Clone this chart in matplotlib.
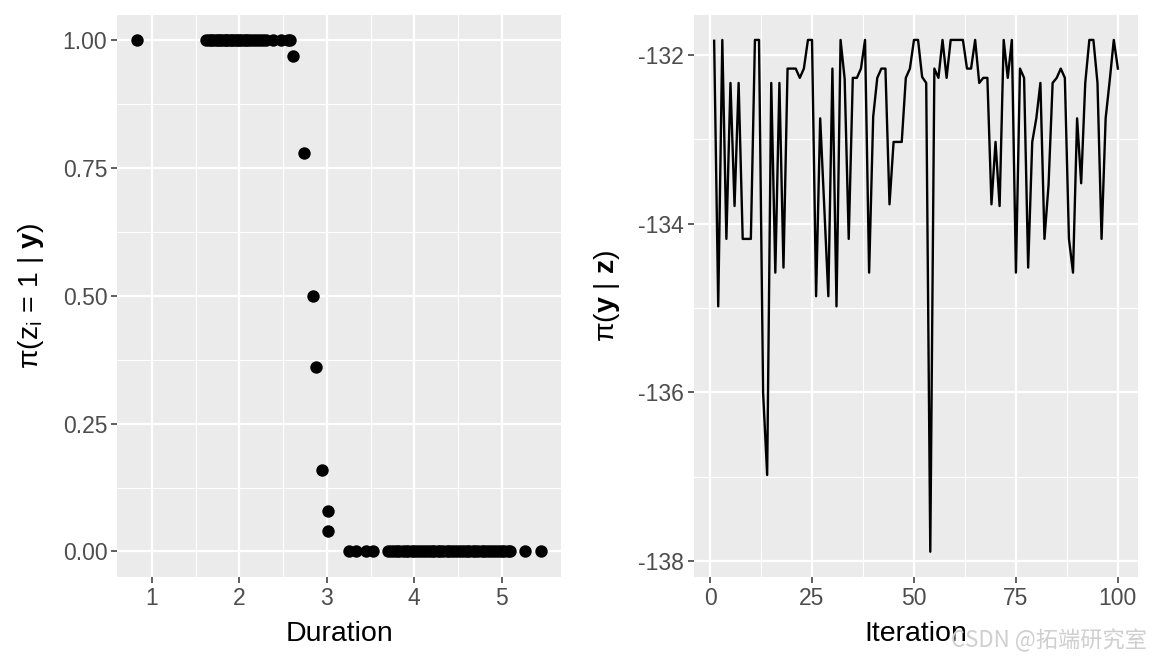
import numpy as np
import matplotlib.pyplot as plt
from matplotlib.ticker import FixedLocator

plt.rcParams['font.family'] = ['Liberation Sans', 'DejaVu Sans']
plt.rcParams['mathtext.fontset'] = 'custom'
plt.rcParams['mathtext.rm'] = 'Liberation Sans'
plt.rcParams['mathtext.it'] = 'Liberation Sans:italic'
plt.rcParams['mathtext.bf'] = 'Liberation Sans:weight=bold'
plt.rcParams['axes.unicode_minus'] = False

# panel 1: posterior membership probability vs duration
dur_one = [0.83, 1.62, 1.65, 1.67, 1.70, 1.73, 1.75, 1.78, 1.80, 1.83, 1.85,
           1.87, 1.90, 1.92, 1.95, 1.97, 2.00, 2.02, 2.05, 2.08, 2.10, 2.13,
           2.17, 2.20, 2.23, 2.27, 2.30, 2.38, 2.48, 2.55, 2.58]
dur_mid = [2.61, 2.74, 2.84, 2.88, 2.94, 3.01, 3.01]
prob_mid = [0.97, 0.78, 0.50, 0.36, 0.16, 0.08, 0.04]
dur_zero = [3.25, 3.33, 3.45, 3.53, 3.70, 3.73, 3.77, 3.80, 3.83, 3.87, 3.90,
            3.93, 3.97, 4.00, 4.03, 4.07, 4.10, 4.13, 4.17, 4.20, 4.23, 4.27,
            4.30, 4.33, 4.37, 4.40, 4.43, 4.47, 4.50, 4.53, 4.57, 4.60, 4.63,
            4.67, 4.70, 4.73, 4.77, 4.80, 4.83, 4.87, 4.90, 4.93, 4.97, 5.00,
            5.03, 5.07, 5.10, 5.27, 5.45]

duration = dur_one + dur_mid + dur_zero
prob = [1.0] * len(dur_one) + prob_mid + [0.0] * len(dur_zero)

# panel 2: log likelihood trace
loglik = [-131.83, -134.98, -131.82, -134.18, -132.33, -133.79, -132.33, -134.18, -134.18, -134.18,
          -131.82, -131.82, -136.00, -136.98, -132.33, -134.58, -132.33, -134.52, -132.16, -132.16,
          -132.16, -132.27, -132.16, -131.82, -131.82, -134.86, -132.75, -133.80, -134.86, -132.16,
          -134.98, -131.82, -132.28, -134.18, -132.27, -132.27, -132.16, -131.82, -134.58, -132.73,
          -132.27, -132.16, -132.16, -133.77, -133.03, -133.03, -133.03, -132.27, -132.16, -131.82,
          -131.82, -132.26, -132.33, -137.89, -132.16, -132.27, -131.82, -132.27, -131.82, -131.82,
          -131.82, -131.82, -132.16, -132.16, -131.82, -132.33, -132.27, -132.27, -133.77, -133.03,
          -133.79, -131.82, -132.27, -131.82, -134.58, -132.16, -132.27, -134.52, -133.03, -132.75,
          -132.33, -134.18, -133.54, -132.33, -132.27, -132.16, -132.27, -134.18, -134.58, -132.75,
          -133.52, -132.33, -131.82, -131.82, -132.33, -134.18, -132.75, -132.30, -131.82, -132.16]
iteration = np.arange(1, len(loglik) + 1)


def gg_style(ax, xmaj, xmin, ymaj, ymin):
    ax.set_facecolor('#EBEBEB')
    for s in ax.spines.values():
        s.set_visible(False)
    ax.xaxis.set_major_locator(FixedLocator(xmaj))
    ax.xaxis.set_minor_locator(FixedLocator(xmin))
    ax.yaxis.set_major_locator(FixedLocator(ymaj))
    ax.yaxis.set_minor_locator(FixedLocator(ymin))
    ax.grid(which='major', color='white', linewidth=1.6)
    ax.grid(which='minor', color='white', linewidth=0.8)
    ax.set_axisbelow(True)
    ax.tick_params(which='major', length=4, width=1.1, color='#333333',
                   labelcolor='#4D4D4D', labelsize=16.5, pad=3)
    ax.tick_params(which='minor', length=0)


fig = plt.figure(figsize=(11.52, 6.62), dpi=100)
ax1 = fig.add_axes([0.1016, 0.1284, 0.3855, 0.8495])
ax2 = fig.add_axes([0.6024, 0.1284, 0.3855, 0.8495])

ax1.scatter(duration, prob, s=80, color='black', linewidths=0, zorder=3)
ax1.set_xlim(0.599, 5.681)
ax1.set_ylim(-0.05, 1.05)
gg_style(ax1, [1, 2, 3, 4, 5], [1.5, 2.5, 3.5, 4.5],
         [0, 0.25, 0.5, 0.75, 1.0], [0.125, 0.375, 0.625, 0.875])
ax1.set_yticklabels(['0.00', '0.25', '0.50', '0.75', '1.00'])
ax1.set_xlabel('Duration', fontsize=20.5, labelpad=8)
ax1.set_ylabel(r'π(z$_{\mathrm{i}}$ = 1 | $\mathbf{y}$)', fontsize=20.5, labelpad=12)

ax2.plot(iteration, loglik, color='black', linewidth=1.7, zorder=3)
ax2.set_xlim(-3.95, 104.95)
ax2.set_ylim(-138.19, -131.52)
gg_style(ax2, [0, 25, 50, 75, 100], [12.5, 37.5, 62.5, 87.5],
         [-138, -136, -134, -132], [-137, -135, -133])
ax2.set_xlabel('Iteration', fontsize=20.5, labelpad=8)
ax2.set_ylabel(r'π($\mathbf{y}$ | $\mathbf{z}$)', fontsize=20.5, labelpad=12)

fig.text(0.996, 0.033, 'CSDN @拓端研究室', ha='right', va='center', fontsize=16,
         color='#CFCFCF', family=['Noto Sans CJK SC', 'DejaVu Sans'])

fig.savefig('out.png', dpi=100)
